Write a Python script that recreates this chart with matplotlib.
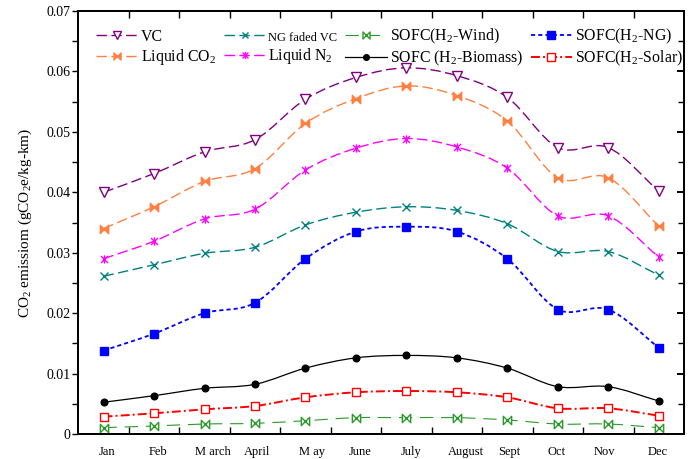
import numpy as np
import matplotlib
matplotlib.use("Agg")
import matplotlib.pyplot as plt
from matplotlib.path import Path
from matplotlib.patches import PathPatch
from matplotlib.lines import Line2D
from matplotlib.ticker import MultipleLocator, FuncFormatter, FixedLocator

plt.rcParams['font.family'] = ['Liberation Serif', 'DejaVu Serif']
plt.rcParams['mathtext.fontset'] = 'custom'
plt.rcParams['mathtext.rm'] = 'Liberation Serif'
plt.rcParams['mathtext.it'] = 'Liberation Serif:italic'

# ---------------- data ----------------
months = ['Jan', 'Feb', 'M arch', 'April', 'M ay', 'June', 'July', 'August',
          'Sept', 'Oct', 'Nov', 'Dec']
vc = [0.0400, 0.0431, 0.0467, 0.0487, 0.0554, 0.0590, 0.0606, 0.0593,
      0.0557, 0.0474, 0.0474, 0.0402]
liquid_co2 = [0.0340, 0.0376, 0.0418, 0.0439, 0.0514, 0.0555, 0.0576, 0.0560,
              0.0518, 0.0424, 0.0424, 0.0344]
liquid_n2 = [0.0290, 0.0319, 0.0356, 0.0372, 0.0437, 0.0473, 0.0489, 0.0475,
             0.0440, 0.0361, 0.0361, 0.0293]
ng_faded_vc = [0.0261, 0.0280, 0.0299, 0.0309, 0.0346, 0.0367, 0.0376, 0.0370,
               0.0348, 0.0302, 0.0302, 0.0263]
sofc_ng = [0.0138, 0.0166, 0.0200, 0.0217, 0.0290, 0.0335, 0.0343, 0.0335,
           0.0290, 0.0206, 0.0206, 0.0143]
sofc_biomass = [0.00525, 0.00634, 0.00756, 0.00822, 0.0109, 0.0126, 0.0130,
                0.0126, 0.0109, 0.00783, 0.00783, 0.00546]
sofc_solar = [0.00287, 0.00342, 0.00408, 0.00463, 0.00607, 0.00690, 0.00711,
              0.00690, 0.00607, 0.00425, 0.00425, 0.00303]
sofc_wind = [0.00105, 0.00132, 0.00165, 0.00176, 0.00220, 0.00270, 0.00270,
             0.00270, 0.00232, 0.00165, 0.00165, 0.00105]
month_label_pos = [0.56, 1.58, 2.67, 3.54, 4.62, 5.59, 6.60, 7.68, 8.53,
                   9.47, 10.43, 11.48]
ytick_vals = [0, 0.01, 0.02, 0.03, 0.04, 0.05, 0.06, 0.07]

# ---------------- markers ----------------
bowtie = Path([(-1, -1), (-1, 1), (1, -1), (1, 1), (-1, -1)],
              [Path.MOVETO, Path.LINETO, Path.LINETO, Path.LINETO, Path.CLOSEPOLY])
star = Path([(-1, -1), (1, 1), (-1, 1), (1, -1), (0, -1.2), (0, 1.2)],
            [Path.MOVETO, Path.LINETO, Path.MOVETO, Path.LINETO, Path.MOVETO, Path.LINETO])


def smooth_path(xs, ys):
    P = np.column_stack([xs, ys]).astype(float)
    n = len(P)
    T = np.zeros_like(P)
    T[1:-1] = (P[2:] - P[:-2]) / 2.0
    T[0] = P[1] - P[0]
    T[-1] = P[-1] - P[-2]
    verts = [P[0]]
    codes = [Path.MOVETO]
    for i in range(n - 1):
        verts += [P[i] + T[i] / 3.0, P[i + 1] - T[i + 1] / 3.0, P[i + 1]]
        codes += [Path.CURVE4] * 3
    return Path(verts, codes)


series = [
    # label, data, color, linestyle, lw, marker, ms, mfc
    ('VC', vc, '#800080', (0, (7.5, 3.2)), 1.0, 'v', 6.5, 'white'),
    ('Liquid CO$_2$', liquid_co2, '#FF8040', (0, (7.5, 3.2)), 1.0, bowtie, 6, '#FF8040'),
    ('NG faded VC', ng_faded_vc, '#008080', (0, (7.5, 3.2)), 1.0, 'x', 5.5, 'none'),
    ('Liquid N$_2$', liquid_n2, '#FF00FF', (0, (7.5, 3.2)), 1.0, star, 6, 'none'),
    ('SOFC(H$_2$-Wind)', sofc_wind, '#2A9A2A', (0, (12, 7)), 0.8, bowtie, 6, 'white'),
    ('SOFC (H$_2$-Biomass)', sofc_biomass, 'black', '-', 0.9, 'o', 4.8, 'black'),
    ('SOFC(H$_2$-NG)', sofc_ng, '#0000FF', (0, (2.3, 1.7)), 1.3, 's', 6, '#0000FF'),
    ('SOFC(H$_2$-Solar)', sofc_solar, '#FF0000', (0, (4.6, 1.6, 1.0, 1.6)), 1.4, 's', 6, 'white'),
]

fig = plt.figure(figsize=(7.0, 4.59), dpi=100)
ax = fig.add_axes([0.1119, 0.0545, 0.8652, 0.9215])

x = np.arange(len(months)) + 0.5
handles = []
for label, data, color, ls, lw, marker, ms, mfc in series:
    patch = PathPatch(smooth_path(x, data), fill=False, edgecolor=color,
                      linewidth=lw, linestyle=ls, zorder=2)
    ax.add_patch(patch)
    ax.plot(x, data, linestyle='none', marker=marker, markersize=ms,
            markerfacecolor=mfc, markeredgecolor=color, markeredgewidth=1.0,
            zorder=3)
    handles.append(Line2D([], [], color=color, linestyle=ls, linewidth=lw,
                          marker=marker, markersize=ms * 0.85, markerfacecolor=mfc,
                          markeredgecolor=color, markeredgewidth=1.0,
                          label=label))

ax.set_xlim(0, 12)
ax.set_ylim(0, 0.07)

# x axis: labels (no tick marks) + minor inward ticks at integers
ax.xaxis.set_major_locator(FixedLocator(month_label_pos))
ax.set_xticklabels(months, fontsize=9)
ax.xaxis.set_minor_locator(FixedLocator(np.arange(1, 12)))
ax.tick_params(axis='x', which='major', length=0, pad=9)
ax.tick_params(axis='x', which='minor', direction='in', length=5, width=1.0,
               top=True, bottom=True)

# y axis left: outward ticks
ax.yaxis.set_major_locator(FixedLocator(ytick_vals))
ax.yaxis.set_minor_locator(MultipleLocator(0.005))
ax.yaxis.set_major_formatter(FuncFormatter(lambda v, p: '0' if abs(v) < 1e-9 else f'{v:.2f}'))
ax.tick_params(axis='y', which='both', direction='out', length=4, width=1.0,
               labelsize=10, pad=1.5)

# right: inward ticks
ax2 = ax.twinx()
ax2.set_ylim(0, 0.07)
ax2.yaxis.set_major_locator(FixedLocator(ytick_vals))
ax2.yaxis.set_minor_locator(MultipleLocator(0.005))
ax2.tick_params(axis='y', which='major', direction='in', length=5, width=1.4,
                labelright=False)
ax2.tick_params(axis='y', which='minor', direction='in', length=4, width=1.0,
                labelright=False)

for a in (ax, ax2):
    for s in a.spines.values():
        s.set_linewidth(1.3)

ax.set_ylabel('CO$_2$ emissiom (gCO$_2$e/kg-km)', fontsize=11, labelpad=9)

leg = ax.legend(handles=handles, ncol=4, loc='upper left',
                bbox_to_anchor=(0.03, 0.962), frameon=False, fontsize=11.4,
                handlelength=2.6, handletextpad=0.2, columnspacing=0.5,
                labelspacing=0.17, borderpad=0, borderaxespad=0,
                numpoints=1)
for t in leg.get_texts():
    if t.get_text() == 'NG faded VC':
        t.set_fontsize(9)

fig.savefig('out.png', dpi=100)
